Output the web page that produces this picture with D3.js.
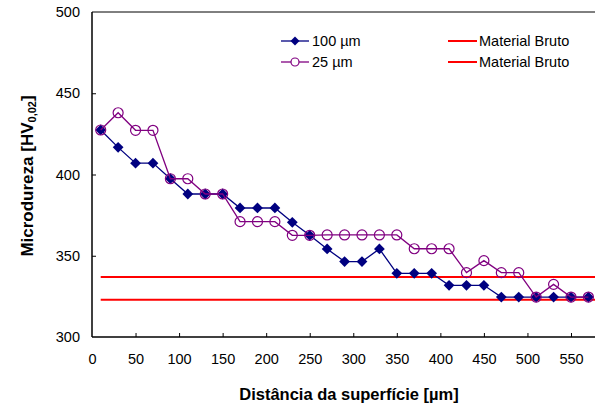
<!DOCTYPE html>
<html><head><meta charset="utf-8">
<script src="https://cdn.jsdelivr.net/npm/d3@7"></script>
<style>body{margin:0;background:#fff}svg{display:block;font-family:"Liberation Sans",Arial,sans-serif}</style>
</head><body>
<svg id="c" width="595" height="407"></svg>
<script>
const distances = [10,30,50,70,90,110,130,150,170,190,210,230,250,270,290,310,330,350,370,390,410,430,450,470,490,510,530,550,570];
const s100 = [427.4,416.7,407,407,397.4,388,388,388,379.4,379.4,379.4,370.6,362.6,354.2,346.4,346.4,354.2,339.2,339.2,339.2,331.8,331.8,331.8,324.6,324.6,324.6,324.6,324.6,324.6];
const s25  = [427.4,438,427.2,427.2,397.4,397.4,388,388,371,371,371,362.6,362.6,362.8,362.8,362.8,362.8,362.8,354.3,354.3,354.3,339.6,347,339.6,339.6,324.6,332.4,324.6,324.6];
const bruto = [337, 323];
const brutoStart = 10;
const xTicks = [0,50,100,150,200,250,300,350,400,450,500,550];
const yTicks = [300,350,400,450,500];
const xDomain = [0, 578];
const yDomain = [300, 500];
const legendNames = ["100 µm","25 µm","Material Bruto","Material Bruto"];

const FF = "'Liberation Sans', Arial, sans-serif";
const svg = d3.select("#c");
const L = 92, T = 12, B = 337;
const x = d3.scaleLinear().domain(xDomain).range([L, L + 578*0.8709]);
const y = d3.scaleLinear().domain(yDomain).range([B, T]);
const blue = "#000080", purple = "#800080", red = "#ff0000";

// red reference lines
bruto.forEach(v => {
  svg.append("line").attr("x1", x(brutoStart)).attr("x2", 595)
    .attr("y1", y(v)).attr("y2", y(v)).attr("stroke", red).attr("stroke-width", 2);
});

// axes
const xa = svg.append("g").attr("transform", `translate(0,${B})`)
  .call(d3.axisBottom(x).tickValues(xTicks).tickSizeInner(-4).tickSizeOuter(0).tickPadding(17));
xa.select(".domain").remove();
xa.selectAll("text").attr("font-size", 14.5).attr("fill", "#000").attr("font-family", FF);
xa.selectAll(".tick line").attr("stroke", "#000").filter(d => d === 0).remove();

const ya = svg.append("g").attr("transform", `translate(${L},0)`)
  .call(d3.axisLeft(y).tickValues(yTicks).tickSizeInner(-4).tickSizeOuter(0).tickPadding(12));
ya.select(".domain").remove();
ya.selectAll("text").attr("font-size", 14.5).attr("fill", "#000").attr("font-family", FF);
ya.selectAll(".tick line").attr("stroke", "#000").filter(d => d === 300 || d === 500).remove();

svg.append("line").attr("x1", L).attr("x2", L).attr("y1", T).attr("y2", B).attr("stroke", "#000").attr("stroke-width", 1.5);
svg.append("line").attr("x1", L).attr("x2", 595).attr("y1", B).attr("y2", B).attr("stroke", "#000").attr("stroke-width", 1.5);
svg.append("line").attr("x1", L).attr("x2", 595).attr("y1", T).attr("y2", T).attr("stroke", "#000").attr("stroke-width", 1);

// series
const line = d3.line().x(d => x(d[0])).y(d => y(d[1]));
const d100 = distances.map((d,i) => [d, s100[i]]);
const d25 = distances.map((d,i) => [d, s25[i]]);

svg.append("path").datum(d100).attr("d", line).attr("fill","none").attr("stroke", blue).attr("stroke-width", 1.3);
svg.selectAll(".dm").data(d100).join("path").attr("class","dm")
  .attr("d", d3.symbol().type(d3.symbolSquare).size(58))
  .attr("transform", d => `translate(${x(d[0])},${y(d[1])}) rotate(45)`).attr("fill", blue);

svg.append("path").datum(d25).attr("d", line).attr("fill","none").attr("stroke", purple).attr("stroke-width", 1.3);
svg.selectAll(".ci").data(d25).join("circle").attr("class","ci")
  .attr("cx", d => x(d[0])).attr("cy", d => y(d[1])).attr("r", 5)
  .attr("fill", "none").attr("stroke", purple).attr("stroke-width", 1.2);

// legend
const lg = svg.append("g").attr("font-size", 14.5).attr("fill", "#000").attr("font-family", FF);
const rows = [41, 62];
lg.append("line").attr("x1", 281).attr("x2", 309).attr("y1", rows[0]).attr("y2", rows[0]).attr("stroke", blue).attr("stroke-width", 1.3);
lg.append("path").attr("d", d3.symbol().type(d3.symbolSquare).size(40)).attr("transform", `translate(295,${rows[0]}) rotate(45)`).attr("fill", blue);
lg.append("text").attr("x", 312).attr("y", rows[0] + 5).text(legendNames[0]);
lg.append("line").attr("x1", 281).attr("x2", 309).attr("y1", rows[1]).attr("y2", rows[1]).attr("stroke", purple).attr("stroke-width", 1.3);
lg.append("circle").attr("cx", 295).attr("cy", rows[1]).attr("r", 4).attr("fill", "#fff").attr("stroke", purple).attr("stroke-width", 1.2);
lg.append("text").attr("x", 312).attr("y", rows[1] + 5).text(legendNames[1]);
rows.forEach((r, i) => {
  lg.append("line").attr("x1", 448).attr("x2", 477).attr("y1", r).attr("y2", r).attr("stroke", red).attr("stroke-width", 2);
  lg.append("text").attr("x", 479).attr("y", r + 5).text(legendNames[2 + i]);
});

// axis titles
svg.append("text").attr("x", 349).attr("y", 400).attr("text-anchor", "middle").attr("font-family", FF)
  .attr("font-size", 16.5).attr("font-weight", "bold").text("Distância da superfície [µm]");
const yt = svg.append("text").attr("transform", "translate(33,176) rotate(-90)").attr("text-anchor", "middle")
  .attr("font-family", FF).attr("font-size", 17).attr("font-weight", "bold");
yt.append("tspan").text("Microdureza [HV");
yt.append("tspan").attr("font-size", 11).attr("dy", 3).text("0,02");
yt.append("tspan").attr("dy", -3).text("]");
</script>
</body></html>
